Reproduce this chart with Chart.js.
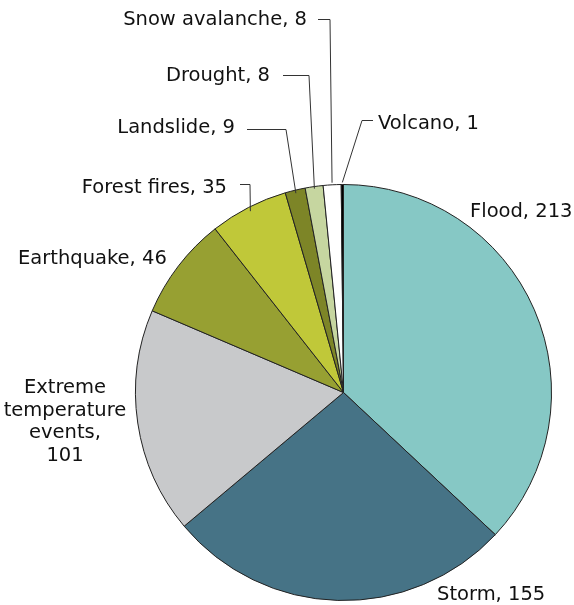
<!DOCTYPE html>
<html>
<head>
<meta charset="utf-8">
<script src="https://cdn.jsdelivr.net/npm/chart.js@4"></script>
<style>
  html, body { margin: 0; padding: 0; background: #fff; }
  canvas { display: block; }
</style>
</head>
<body>
<canvas id="desastres" width="574" height="605"></canvas>
<script>
// numero de eventos por tipo de desastre
const categorias = ["Flood", "Storm", "Extreme temperature events", "Earthquake",
  "Forest fires", "Landslide", "Drought", "Snow avalanche", "Volcano"];
const eventos = [213, 155, 101, 46, 35, 9, 8, 8, 1];
const colores = ["#86c8c5", "#467386", "#c8c9cb", "#97a032", "#c0c839",
  "#7d8527", "#c6d6a0", "#ffffff", "#000000"];

// donde va cada etiqueta (y su linea guia si la lleva)
const etiquetas = [
  { x: 470, y: 212, align: "left" },
  { x: 437, y: 595, align: "left" },
  { x: 65, y: 388, align: "center", partida: true },
  { x: 18, y: 259, align: "left" },
  { x: 227, y: 188, align: "right", guia: { r: 0.98, codo: [250, 184], fin: 240 } },
  { x: 235, y: 128, align: "right", guia: { r: 0.985, codo: [286, 129], fin: 247 } },
  { x: 270, y: 76, align: "right", guia: { r: 0.99, codo: [309, 75], fin: 283 } },
  { x: 307, y: 20, align: "right", guia: { r: 1.01, codo: [330, 19], fin: 318 } },
  { x: 378, y: 124, align: "left", guia: { r: 1.01, codo: [362, 120], fin: 373 } },
];

const fuente = "19.5px 'DejaVu Sans', Verdana, sans-serif";

const pluginEtiquetas = {
  id: "etiquetas",
  afterDraw(chart) {
    const c = chart.ctx;
    const meta = chart.getDatasetMeta(0);
    c.save();
    c.font = fuente;
    c.fillStyle = "#111";
    c.textBaseline = "middle";
    meta.data.forEach((arc, i) => {
      const e = etiquetas[i];
      const texto = categorias[i] + ", " + eventos[i];
      if (e.guia) {
        const mid = (arc.startAngle + arc.endAngle) / 2;
        const r = arc.outerRadius * e.guia.r;
        c.beginPath();
        c.strokeStyle = "#333";
        c.lineWidth = 1;
        c.moveTo(arc.x + Math.cos(mid) * r, arc.y + Math.sin(mid) * r);
        c.lineTo(e.guia.codo[0], e.guia.codo[1] + 0.5);
        c.lineTo(e.guia.fin, e.guia.codo[1] + 0.5);
        c.stroke();
      }
      c.textAlign = e.align;
      if (e.partida) {
        // texto largo en varias lineas
        const lineas = ["Extreme", "temperature", "events,", String(eventos[i])];
        lineas.forEach((l, k) => c.fillText(l, e.x, e.y + k * 22.7));
      } else {
        c.fillText(texto, e.x, e.y);
      }
    });
    c.restore();
  },
};

const ctx = document.getElementById("desastres");
new Chart(ctx, {
  type: "pie",
  data: {
    labels: categorias,
    datasets: [
      {
        data: eventos,
        backgroundColor: colores,
        borderColor: "#222",
        borderWidth: 1,
      },
    ],
  },
  options: {
    responsive: false,
    devicePixelRatio: 1,
    animation: false,
    layout: { padding: { left: 135, right: 22, top: 184, bottom: 4 } },
    plugins: {
      legend: { display: false },
      tooltip: { enabled: false },
    },
  },
  plugins: [pluginEtiquetas],
});
</script>
</body>
</html>
